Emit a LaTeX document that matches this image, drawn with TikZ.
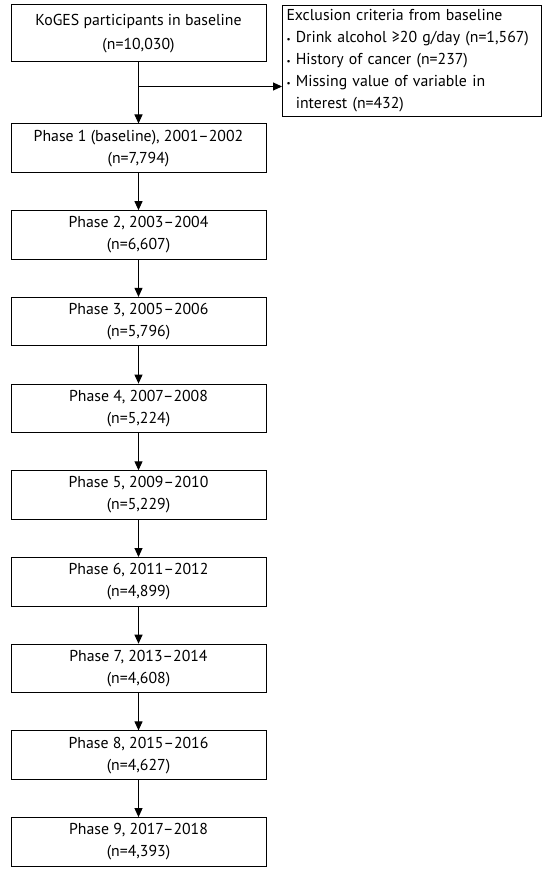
\documentclass[tikz,border=0pt]{standalone}
\usepackage{fontspec}
\setmainfont{PT Sans}
\usetikzlibrary{arrows.meta, positioning, calc}

\tikzset{
    flowbox/.style={draw, line width=1pt, minimum width=255pt, minimum height=48.5pt,
        align=center, inner sep=3pt, font=\fontsize{15.8}{22}\selectfont},
    flowarrow/.style={-{Triangle[length=9pt, width=8pt]}, line width=1pt}
}

\begin{document}
\begin{tikzpicture}[x=1pt, y=-1pt, node distance=37.2pt]
        \useasboundingbox (0,0) rectangle (548,874);
        % Baseline cohort and exclusions
        \node [flowbox, minimum height=57pt, font=\fontsize{15.8}{24}\selectfont] (top) at (138.5,33.5)
            {KoGES participants in baseline\\(n=10,030)};
        \node [flowbox, minimum width=259pt, minimum height=87pt, text width=251pt, inner sep=4pt,
            align=left, anchor=north west] (excl) at (282,5) {Exclusion criteria from baseline\\
            {\small\textbullet} Drink alcohol ≥20 g/day (n=1,567)\\
            {\small\textbullet} History of cancer (n=237)\\
            {\small\textbullet} Missing value of variable in\\
            \phantom{{\small\textbullet} }interest (n=432)};
        % Follow-up phases
        \node [flowbox, anchor=north] (p1) at (138.5,123.5) {Phase 1 (baseline), 2001–2002\\(n=7,794)};
        \node [flowbox, below=of p1] (p2) {Phase 2, 2003–2004\\(n=6,607)};
        \node [flowbox, below=of p2] (p3) {Phase 3, 2005–2006\\(n=5,796)};
        \node [flowbox, below=of p3] (p4) {Phase 4, 2007–2008\\(n=5,224)};
        \node [flowbox, below=of p4] (p5) {Phase 5, 2009–2010\\(n=5,229)};
        \node [flowbox, below=of p5] (p6) {Phase 6, 2011–2012\\(n=4,899)};
        \node [flowbox, below=of p6] (p7) {Phase 7, 2013–2014\\(n=4,608)};
        \node [flowbox, below=of p7] (p8) {Phase 8, 2015–2016\\(n=4,627)};
        \node [flowbox, below=of p8] (p9) {Phase 9, 2017–2018\\(n=4,393)};
        % Arrows
        \coordinate (br) at ([yshift=-24pt]top.south);
        \draw [flowarrow] (top) -- (p1);
        \draw [flowarrow] (br) -- (br -| excl.west);
        \foreach \i [evaluate=\i as \j using int(\i+1)] in {1,...,8}
            \draw [flowarrow] (p\i) -- (p\j);
    \end{tikzpicture}
\end{document}
